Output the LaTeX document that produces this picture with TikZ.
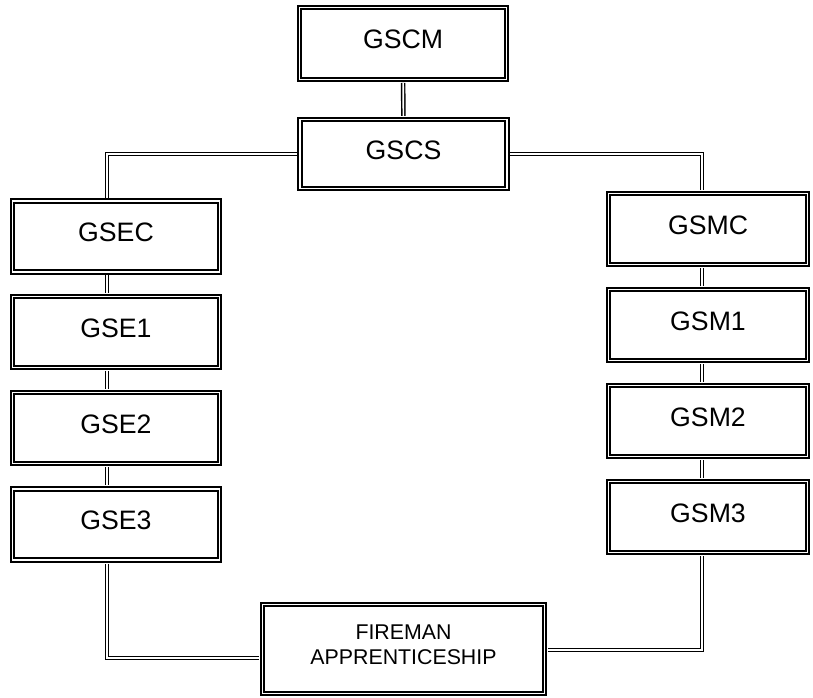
\documentclass[tikz,border=0pt]{standalone}
\usepackage{fontspec}
\setmainfont{Liberation Sans}
\begin{document}
\begin{tikzpicture}[x=0.75pt,y=-0.75pt,
  box/.style={draw=black, double=white, line width=1.5pt, double distance=1.2pt,
    inner sep=0pt, outer sep=2.6pt, minimum width=155pt, minimum height=53.5pt,
    text depth=6pt, font=\fontsize{20}{23}\selectfont},
  rbox/.style={box, minimum width=149pt},
  conn/.style={draw=black, double=white, line width=1.1pt, double distance=1.2pt}]
\useasboundingbox (0,0) rectangle (813,698);
\node[box, minimum height=54pt] (GSCM) at (403,43.5) {GSCM};
\node[box, minimum height=52pt] (GSCS) at (403.5,154) {GSCS};
\node[box, minimum height=53pt] (GSEC) at (116,236.5) {GSEC};
\node[box] (GSE1) at (116,332) {GSE1};
\node[box] (GSE2) at (116,428) {GSE2};
\node[box] (GSE3) at (116,524.5) {GSE3};
\node[rbox] (GSMC) at (708,229) {GSMC};
\node[rbox] (GSM1) at (708,325) {GSM1};
\node[rbox] (GSM2) at (708,421) {GSM2};
\node[rbox] (GSM3) at (708,517) {GSM3};
\node[box, minimum width=211.5pt, minimum height=67pt, align=center, text depth=6pt,
  font=\fontsize{16}{18.75}\selectfont] (F) at (403.5,649) {FIREMAN\\APPRENTICESHIP};
\coordinate (L) at (107,0);
\coordinate (R) at (702,0);
\coordinate (LB) at (0,658);
\coordinate (RB) at (0,650);
\draw[conn] (GSCM) -- (GSCS);
\draw[conn] (GSCS.west) -| (GSEC.north -| L);
\draw[conn] (GSEC.south -| L) -- (GSE1.north -| L);
\draw[conn] (GSE1.south -| L) -- (GSE2.north -| L);
\draw[conn] (GSE2.south -| L) -- (GSE3.north -| L);
\draw[conn] (GSE3.south -| L) |- (F.west |- LB);
\draw[conn] (GSCS.east) -| (GSMC.north -| R);
\draw[conn] (GSMC.south -| R) -- (GSM1.north -| R);
\draw[conn] (GSM1.south -| R) -- (GSM2.north -| R);
\draw[conn] (GSM2.south -| R) -- (GSM3.north -| R);
\draw[conn] (GSM3.south -| R) |- (F.east |- RB);
\end{tikzpicture}
\end{document}
